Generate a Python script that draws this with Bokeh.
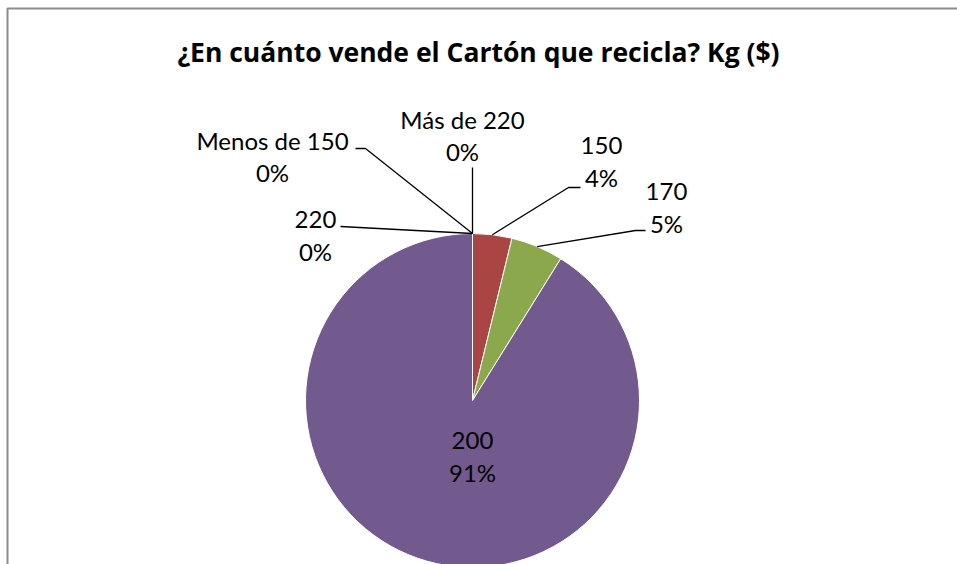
import math
from bokeh.plotting import figure
from bokeh.models import Range1d, ColumnDataSource
from bokeh.core.properties import value
from bokeh.embed import file_html
from bokeh.resources import INLINE

# ---- data ----
categories = ["Menos de 150", "150", "170", "200", "220", "Más de 220"]
counts = [0, 3, 4, 72, 0, 0]
colors = ["#4F81BD", "#A94643", "#8BA84D", "#725A8F", "#4BACC6", "#F79646"]
title_text = "¿En cuánto vende el Cartón que recicla? Kg ($)"

# ---- layout (page pixels) ----
W, H = 957, 564
CX, CY, R = 472, 400, 167
FONT = "Lato"
LABEL_SIZE = "24px"
TITLE_FONT = "Open Sans"
TITLE_SIZE = "26.5px"
LINE_GAP = 32
TEXT_SHIFT = 8
# label: text center x, first-line baseline y, leader elbow points (from label towards pie)
label_layout = {
    "Menos de 150": (272, 148, [(355, 148), (365, 148)]),
    "150": (601, 153, [(580, 187), (568, 187)]),
    "170": (666, 199, [(645, 230), (635, 230)]),
    "200": (472, 448, None),
    "220": (315, 227, [(340, 226)]),
    "Más de 220": (462, 127, [(472, 167)]),
}


def Y(py):
    return H - py


p = figure(width=W, height=H, output_backend="svg", toolbar_location=None,
           x_range=Range1d(0, W), y_range=Range1d(0, H), min_border=0)
p.axis.visible = False
p.grid.visible = False
p.outline_line_color = None
p.background_fill_color = "white"
p.border_fill_color = "white"

# chart frame (left and top edges visible)
p.line([7, 7, W + 5], [Y(H + 5), Y(8), Y(8)], line_color="#8C8C8C", line_width=2)

total = sum(counts)
cum = 0.0
starts, ends, mids = [], [], []
for c in counts:
    frac0 = cum / total
    cum += c
    frac1 = cum / total
    starts.append(math.pi / 2 - 2 * math.pi * frac0)
    ends.append(math.pi / 2 - 2 * math.pi * frac1)
    mids.append(math.pi / 2 - 2 * math.pi * (frac0 + frac1) / 2)

idx = [i for i, c in enumerate(counts) if c > 0]
wsrc = ColumnDataSource(dict(
    x=[CX for i in idx], y=[Y(CY) for i in idx],
    start=[starts[i] for i in idx], end=[ends[i] for i in idx],
    color=[colors[i] for i in idx]))
p.wedge(x="x", y="y", radius=R, start_angle="start", end_angle="end",
        direction="clock", fill_color="color", line_color="white",
        line_width=1, source=wsrc)

# labels and leader lines
tx, ty, tt = [], [], []
for cat, c, m in zip(categories, counts, mids):
    cx, by, elbows = label_layout[cat]
    pct = f"{round(100 * c / total)}%"
    tx += [cx, cx]
    ty += [Y(by - TEXT_SHIFT), Y(by + LINE_GAP - TEXT_SHIFT)]
    tt += [cat, pct]
    if elbows:
        ex = CX + R * math.cos(m)
        ey = CY - R * math.sin(m)
        xs = [e[0] for e in elbows] + [ex]
        ys = [Y(e[1]) for e in elbows] + [Y(ey)]
        p.line(xs, ys, line_color="black", line_width=1.3)

p.text(x=tx, y=ty, text=tt, text_font=value(FONT), text_font_size=LABEL_SIZE,
       text_align="center", text_baseline="alphabetic", text_color="black")

p.text(x=[478], y=[Y(59 - TEXT_SHIFT)], text=[title_text], text_font=value(TITLE_FONT),
       text_font_size=TITLE_SIZE, text_font_style="bold",
       text_align="center", text_baseline="alphabetic", text_color="black")

open("out.html", "w").write(file_html(p, INLINE))
